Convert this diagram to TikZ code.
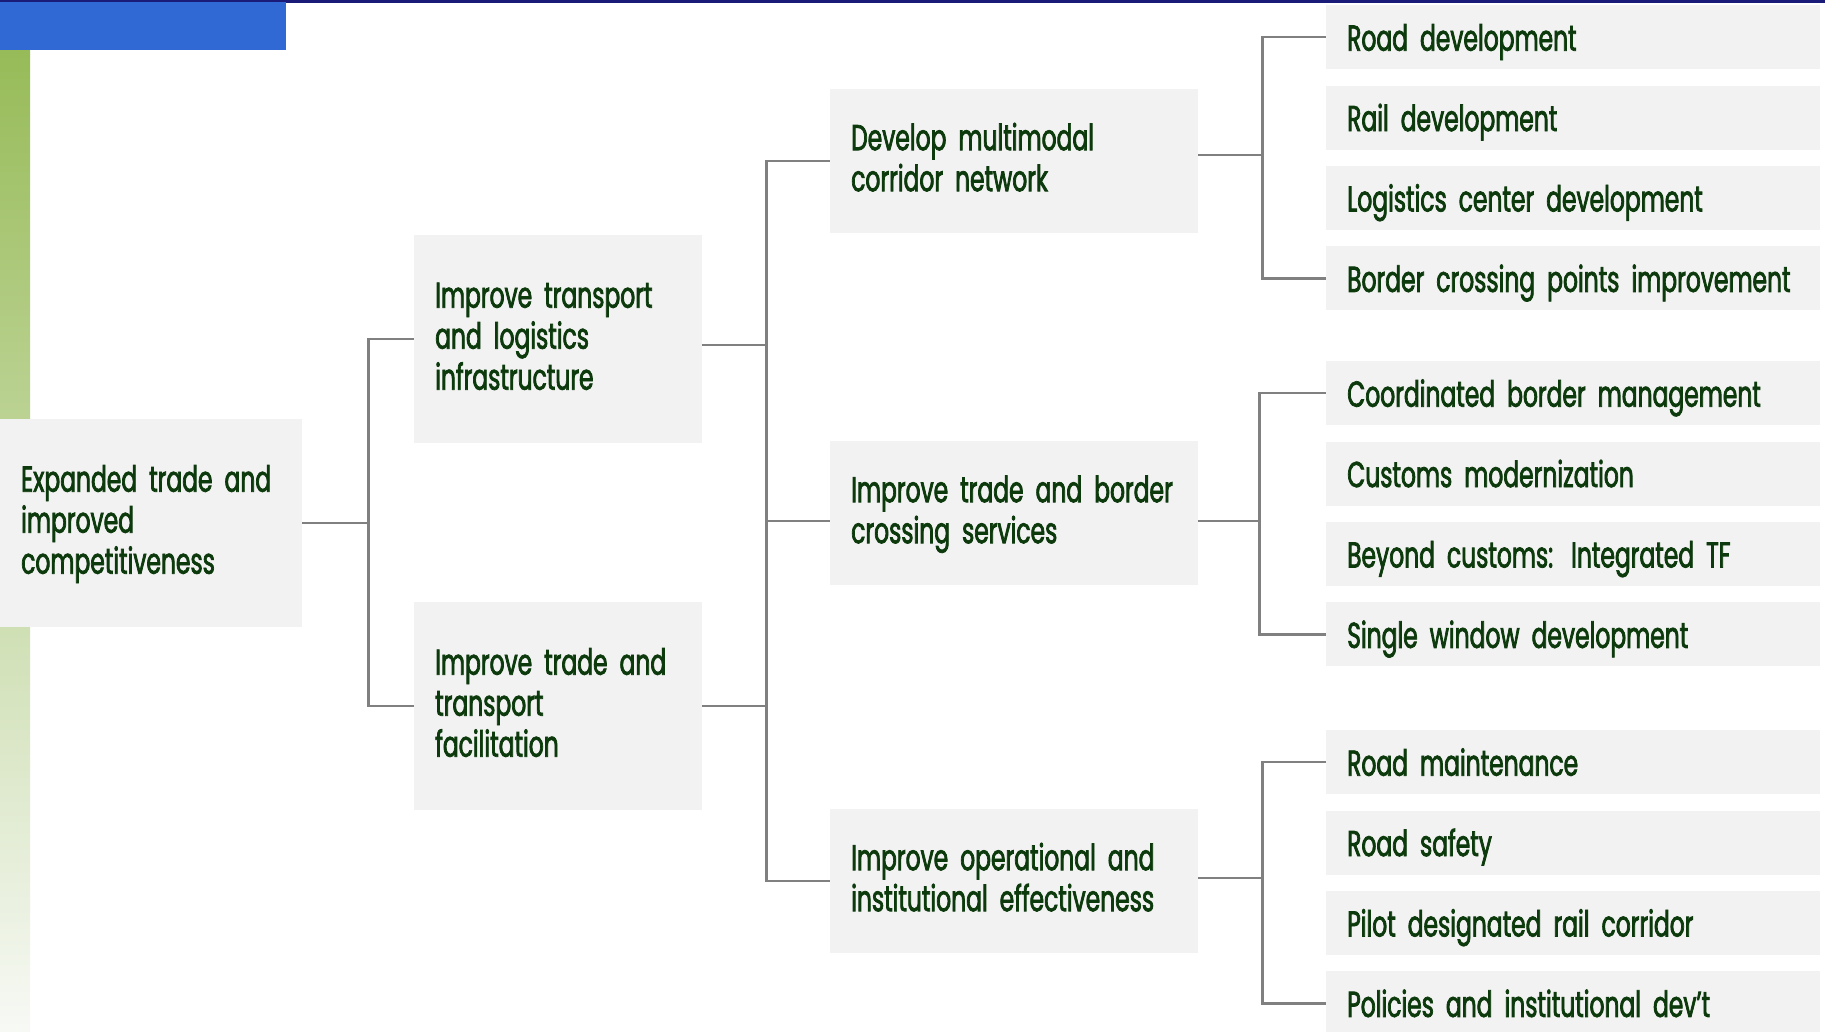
\documentclass[tikz,border=0pt]{standalone}
\usepackage{fontspec}
\setmainfont{Poppins}[FakeStretch=0.65,FakeBold=2]
\usetikzlibrary{positioning}

\definecolor{boxgray}{RGB}{242,242,242}
\definecolor{textgreen}{RGB}{12,58,12}
\definecolor{linegray}{RGB}{128,128,128}
\definecolor{barblue}{RGB}{48,105,212}
\definecolor{barnavy}{RGB}{26,26,120}
\definecolor{stripgreen}{RGB}{151,187,88}
\definecolor{stripmid}{RGB}{196,214,168}
\definecolor{stripend}{RGB}{247,249,245}

\begin{document}
\begin{tikzpicture}[x=1pt,y=-1pt,node distance=16pt]
  \tikzstyle{every node}=[font=\fontsize{36}{41}\selectfont,text=textgreen]
  \tikzstyle{box}=[fill=boxgray,inner xsep=21pt,inner ysep=0pt,anchor=north west,align=left,text height=27pt]
  \tikzstyle{tall}=[box,text width=246pt,minimum height=208pt,text depth=90pt]
  \tikzstyle{mid}=[box,text width=326pt,minimum height=144pt,text depth=49pt]
  \tikzstyle{leaf}=[box,text width=452pt,minimum height=64pt,text depth=0pt]
  \tikzstyle{link}=[draw=linegray,line width=2.2pt]

  \useasboundingbox (0,0) rectangle (1825,1031);

  % top bars and side strip
  \fill[barnavy] (0,0) rectangle (1825,3);
  \fill[barblue] (0,2) rectangle (286,50);
  \shade[top color=stripgreen,middle color=stripmid,bottom color=stripend] (0,50) rectangle (30,1031);

  % goal and outcomes
  \node[tall,text width=260pt] (goal) at (0,419) {Expanded trade and\\improved\\competitiveness};
  \node[tall] (infra) at (414,235) {Improve transport\\and logistics\\infrastructure};
  \node[tall] (facil) at (414,602) {Improve trade and\\transport\\facilitation};

  % outputs
  \node[mid] (corridor) at (830,89)  {Develop multimodal\\corridor network};
  \node[mid] (border)   at (830,441) {Improve trade and border\\crossing services};
  \node[mid] (inst)     at (830,809) {Improve operational and\\institutional effectiveness};

  % activities
  \node[leaf] (road) at (1326,5) {Road development};
  \node[leaf,below=of road] (rail) {Rail development};
  \node[leaf,below=of rail] (logi) {Logistics center development};
  \node[leaf,below=of logi] (bcp)  {Border crossing points improvement};

  \node[leaf] (cbm) at (1326,361) {Coordinated border management};
  \node[leaf,below=of cbm]     (customs) {Customs modernization};
  \node[leaf,below=of customs] (beyond)  {Beyond customs: Integrated TF};
  \node[leaf,below=of beyond]  (swin)    {Single window development};

  \node[leaf] (maint) at (1326,730) {Road maintenance};
  \node[leaf,below=of maint]  (safety) {Road safety};
  \node[leaf,below=of safety] (pilot)  {Pilot designated rail corridor};
  \node[leaf,below=of pilot]  (policy) {Policies and institutional dev’t};

  % connectors
  \foreach \c in {infra,facil}
    \draw[link] (goal.east) -- ++(66,0) |- (\c.west);
  \draw[link] ([yshift=-6pt]infra.east) -- ++(64,0) |- (corridor.west);
  \draw[link] ([yshift=-6pt]infra.east) -- ++(64,0) |- ([yshift=-8pt]border.west);
  \draw[link] (facil.east) -- ++(64,0) |- ([yshift=-8pt]border.west);
  \draw[link] (facil.east) -- ++(64,0) |- (inst.west);
  \foreach \c in {road,bcp}
    \draw[link] ([yshift=6pt]corridor.east) -- ++(64,0) |- (\c.west);
  \foreach \c in {cbm,swin}
    \draw[link] ([yshift=-8pt]border.east) -- ++(61,0) |- (\c.west);
  \foreach \c in {maint,policy}
    \draw[link] ([yshift=3pt]inst.east) -- ++(64,0) |- (\c.west);
\end{tikzpicture}
\end{document}
